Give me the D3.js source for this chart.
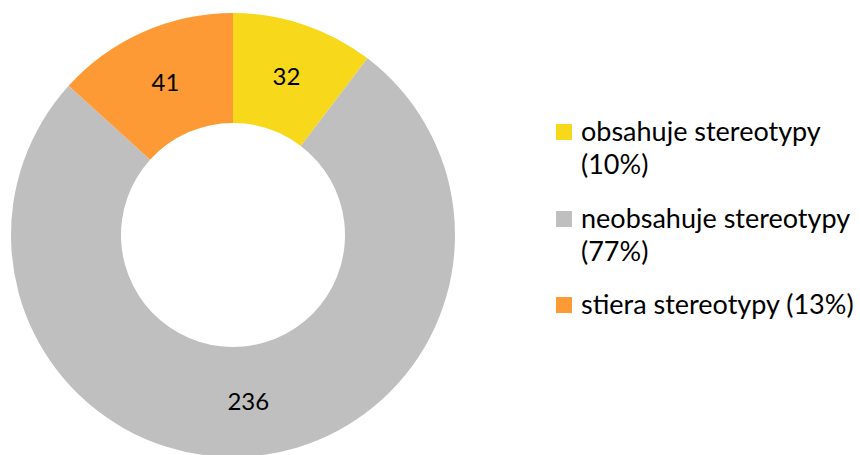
<!DOCTYPE html>
<html>
<head>
    <meta charset="utf-8" />
    <script src="https://d3js.org/d3.v7.min.js"></script>
    <style>
        body { margin: 0; background: #fff; }
        text { font-family: Lato, "Open Sans", sans-serif; fill: #000; }
    </style>
</head>
<body>
    <svg width="860" height="455"></svg>
    <script>
        // chart data
        var categories = ["obsahuje stereotypy", "neobsahuje stereotypy", "stiera stereotypy"];
        var values = [32, 236, 41];
        var legendLines = [["obsahuje stereotypy", "(10%)"], ["neobsahuje stereotypy", "(77%)"], ["stiera stereotypy (13%)"]];
        var colors = ["#F8D81B", "#BFBFBF", "#FE9A35"];

        var svg = d3.select("svg"),
            cx = 233, cy = 235,
            outerR = 222, innerR = 112;

        var data = categories.map(function (c, i) {
            return { name: c, value: values[i], color: colors[i], lines: legendLines[i] };
        });

        var pie = d3.pie().sort(null).value(function (d) { return d.value; });
        var arc = d3.arc().innerRadius(innerR).outerRadius(outerR);

        var g = svg.append("g").attr("transform", "translate(" + cx + "," + cy + ")");

        g.selectAll("path")
            .data(pie(data))
            .enter().append("path")
            .attr("d", arc)
            .attr("fill", function (d) { return d.data.color; });

        // value labels
        g.selectAll(".label")
            .data(pie(data))
            .enter().append("text")
            .attr("class", "label")
            .attr("transform", function (d) { return "translate(" + arc.centroid(d) + ")"; })
            .attr("text-anchor", "middle")
            .attr("dy", "0.35em")
            .style("font-size", "24px")
            .text(function (d) { return d.data.value; });

        // title, mostly outside the top of the picture
        svg.append("text")
            .attr("x", 716)
            .attr("y", -5)
            .attr("text-anchor", "end")
            .style("font-size", "26px")
            .style("font-weight", "bold")
            .text("Stereotypy");

        // legend
        var legendY = [124, 211, 297];
        var legend = svg.selectAll(".legend")
            .data(data)
            .enter().append("g")
            .attr("class", "legend")
            .attr("transform", function (d, i) { return "translate(556," + legendY[i] + ")"; });

        legend.append("rect")
            .attr("width", 16)
            .attr("height", 16)
            .attr("fill", function (d) { return d.color; });

        legend.each(function (d) {
            var t = d3.select(this).append("text")
                .attr("x", 25)
                .attr("y", 16.5)
                .style("font-size", "27px");
            d.lines.forEach(function (line, j) {
                t.append("tspan")
                    .attr("x", 25)
                    .attr("dy", j === 0 ? 0 : 33)
                    .text(line);
            });
        });
    </script>
</body>
</html>
